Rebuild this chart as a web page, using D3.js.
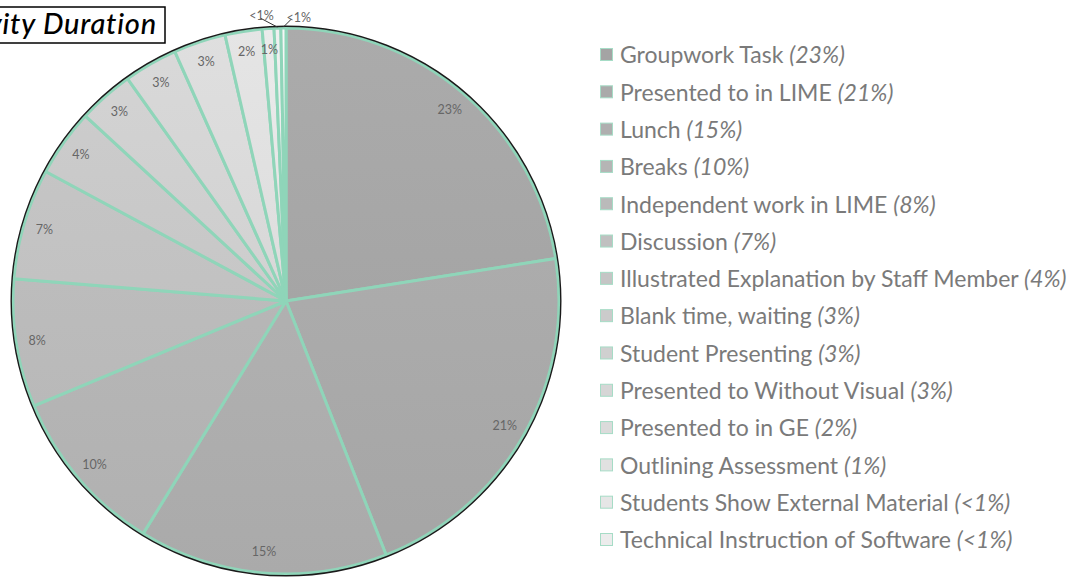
<!DOCTYPE html>
<html>
<head>
<meta charset="utf-8">
<script src="https://cdn.jsdelivr.net/npm/d3@7"></script>
<style>
  body { margin: 0; background: #fff; }
  svg { display: block; }
</style>
</head>
<body>
<script>
// activity share of total duration (clockwise from 12 o'clock)
const categories = [
  "Groupwork Task", "Presented to in LIME", "Lunch", "Breaks",
  "Independent work in LIME", "Discussion", "Illustrated Explanation by Staff Member",
  "Blank time, waiting", "Student Presenting", "Presented to Without Visual",
  "Presented to in GE", "Outlining Assessment", "Students Show External Material",
  "Technical Instruction of Software"
];
const values = [22.6, 21.6, 14.8, 10.0, 7.6, 6.6, 4.0, 3.3, 3.2, 3.1, 2.2, 0.7, 0.4, 0.3];
const pctLabels = ["23%", "21%", "15%", "10%", "8%", "7%", "4%", "3%", "3%", "3%", "2%", "1%", "<1%", "<1%"];

const width = 1076, height = 577;
const cx = 286, cy = 301, r = 273;
const FONT = "Lato, 'DejaVu Sans', sans-serif";

const svg = d3.select("body").append("svg")
    .attr("width", width)
    .attr("height", height);

const defs = svg.append("defs");
const grey = d3.scaleLinear()
    .domain([0, categories.length - 1])
    .range(["#a4a4a4", "#ececec"]);

categories.forEach((c, i) => {
  const base = d3.color(grey(i));
  const g = defs.append("linearGradient")
      .attr("id", "grad" + i)
      .attr("gradientUnits", "userSpaceOnUse")
      .attr("x1", 0).attr("y1", -r).attr("x2", 0).attr("y2", r);
  g.append("stop").attr("offset", "0%").attr("stop-color", base.brighter(0.12));
  g.append("stop").attr("offset", "100%").attr("stop-color", base.darker(0.08));
});

const data = categories.map((c, i) => ({ name: c, value: values[i], label: pctLabels[i], i }));

const pie = d3.pie().sort(null).value(d => d.value);
const arcs = pie(data);
const arc = d3.arc().innerRadius(0).outerRadius(r);
const labelArc = d3.arc().innerRadius(252).outerRadius(252);

const mainG = svg.append("g").attr("transform", `translate(${cx},${cy})`);

mainG.selectAll("path.slice")
    .data(arcs)
    .enter()
    .append("path")
    .attr("class", "slice")
    .attr("fill", d => `url(#grad${d.data.i})`)
    .attr("stroke", "#8fd5b9")
    .attr("stroke-width", 3)
    .attr("stroke-linejoin", "round")
    .attr("d", arc);

mainG.append("circle")
    .attr("r", r + 1.8)
    .attr("fill", "none")
    .attr("stroke", "#1a1a1a")
    .attr("stroke-width", 1.4);

// in-slice labels
mainG.selectAll("text.pct")
    .data(arcs.filter(d => d.data.value >= 0.6))
    .enter()
    .append("text")
    .attr("class", "pct")
    .attr("transform", d => `translate(${labelArc.centroid(d)})`)
    .attr("text-anchor", "middle")
    .attr("dy", "0.35em")
    .attr("font-family", FONT)
    .attr("font-size", 12.5)
    .attr("fill", "#666")
    .text(d => d.data.label);

// small slices: labels outside with leader lines
const small = arcs.filter(d => d.data.value < 0.6);
const outside = [
  { lx: -17, ly: -9, tx: -16, ty: -7, anchor: "middle" },
  { lx: 8, ly: -8, tx: 3, ty: -5, anchor: "start" }
];
small.forEach((d, k) => {
  const a = (d.startAngle + d.endAngle) / 2;
  const px = Math.sin(a) * (r + 1), py = -Math.cos(a) * (r + 1);
  const o = outside[k];
  mainG.append("line")
      .attr("x1", px).attr("y1", py)
      .attr("x2", px + o.lx).attr("y2", py + o.ly)
      .attr("stroke", "#333")
      .attr("stroke-width", 1);
  mainG.append("text")
      .attr("x", px + o.tx)
      .attr("y", py + o.ty)
      .attr("text-anchor", o.anchor)
      .attr("font-family", FONT)
      .attr("font-size", 12.5)
      .attr("fill", "#666")
      .text(d.data.label);
});

// title box, partly cut off at the left edge
const titleG = svg.append("g");
titleG.append("rect")
    .attr("x", -120).attr("y", 7)
    .attr("width", 285).attr("height", 36)
    .attr("fill", "#fff")
    .attr("stroke", "#000")
    .attr("stroke-width", 1.5);
titleG.append("text")
    .attr("x", 157).attr("y", 34)
    .attr("text-anchor", "end")
    .attr("font-family", FONT)
    .attr("font-style", "italic")
    .attr("font-weight", 500)
    .attr("font-size", 29)
    .attr("letter-spacing", 0.8)
    .attr("fill", "#000")
    .text("Activity Duration");

// legend
const legendY = d3.scalePoint()
    .domain(categories)
    .range([55, 540]);

const leg = svg.append("g")
    .selectAll("g")
    .data(data)
    .enter()
    .append("g")
    .attr("transform", d => `translate(600,${legendY(d.name)})`);

leg.append("rect")
    .attr("x", 0.5).attr("y", -6.5)
    .attr("width", 12).attr("height", 12)
    .attr("fill", d => grey(d.i))
    .attr("stroke", "#a6dcc6")
    .attr("stroke-width", 1);

const lt = leg.append("text")
    .attr("x", 20)
    .attr("dy", "0.36em")
    .attr("font-family", FONT)
    .attr("font-size", 23)
    .attr("fill", "#7a7a7a");
lt.append("tspan").text(d => d.name + " ");
lt.append("tspan").attr("font-style", "italic").text(d => "(" + d.label + ")");
</script>
</body>
</html>
